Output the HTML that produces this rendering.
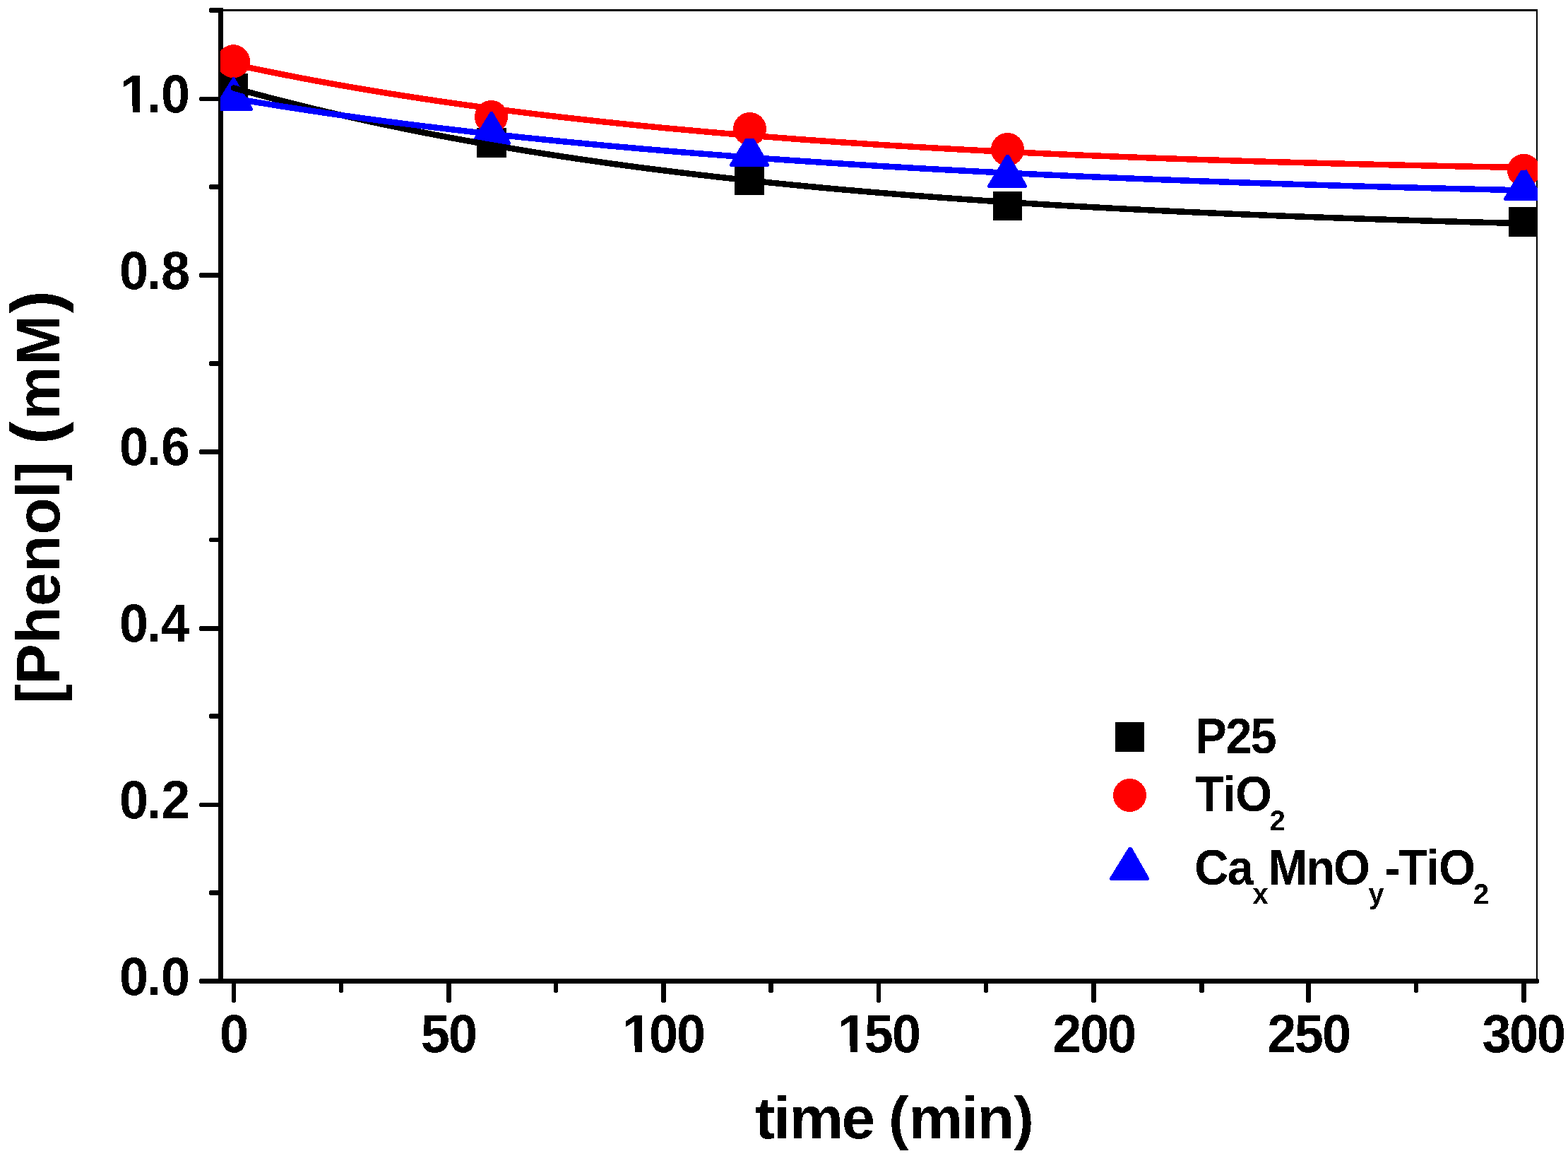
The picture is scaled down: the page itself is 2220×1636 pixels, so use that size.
<!DOCTYPE html>
<html lang="en"><head><meta charset="utf-8"><title>[Phenol] (mM) vs time (min)</title>
<style>html,body{margin:0;padding:0;background:#fff}body{width:2220px;height:1636px;overflow:hidden}svg{display:block}text{font-family:"Liberation Sans",Arial,Helvetica,sans-serif;font-weight:bold;fill:#000}</style></head><body>
<svg width="2220" height="1636" viewBox="0 0 2220 1636">
<defs><clipPath id="plot"><rect x="312" y="15" width="1865" height="1374"/></clipPath><filter id="bin" x="0" y="0" width="2220" height="1636" filterUnits="userSpaceOnUse" color-interpolation-filters="sRGB"><feComponentTransfer><feFuncA type="discrete" tableValues="0 1"/></feComponentTransfer></filter></defs>
<rect width="2220" height="1636" fill="#fff"/>
<g shape-rendering="crispEdges" fill="#000">
<rect x="309" y="13" width="1868" height="3"/>
<rect x="2175" y="13" width="2" height="1376"/>
<rect x="309" y="11" width="7" height="1381"/>
<rect x="309" y="1385" width="1869" height="7"/><rect x="2178" y="1386" width="1" height="5"/>
<rect x="283" y="1385" width="26" height="7"/><rect x="282" y="1386" width="1" height="5"/>
<rect x="297" y="1260" width="12" height="7"/><rect x="296" y="1261" width="1" height="5"/>
<rect x="283" y="1136" width="26" height="6"/><rect x="282" y="1137" width="1" height="4"/>
<rect x="297" y="1010" width="12" height="7"/><rect x="296" y="1011" width="1" height="5"/>
<rect x="283" y="886" width="26" height="7"/><rect x="282" y="887" width="1" height="5"/>
<rect x="297" y="761" width="12" height="6"/><rect x="296" y="762" width="1" height="4"/>
<rect x="283" y="636" width="26" height="7"/><rect x="282" y="637" width="1" height="5"/>
<rect x="297" y="511" width="12" height="7"/><rect x="296" y="512" width="1" height="5"/>
<rect x="283" y="386" width="26" height="7"/><rect x="282" y="387" width="1" height="5"/>
<rect x="297" y="261" width="12" height="7"/><rect x="296" y="262" width="1" height="5"/>
<rect x="283" y="137" width="26" height="6"/><rect x="282" y="138" width="1" height="4"/>
<rect x="297" y="11" width="12" height="7"/><rect x="296" y="12" width="1" height="5"/>
<rect x="328" y="1392" width="6" height="26"/><rect x="329" y="1418" width="4" height="1"/>
<rect x="480" y="1392" width="6" height="12"/><rect x="481" y="1404" width="4" height="1"/>
<rect x="632" y="1392" width="7" height="26"/><rect x="633" y="1418" width="5" height="1"/>
<rect x="784" y="1392" width="6" height="12"/><rect x="785" y="1404" width="4" height="1"/>
<rect x="936" y="1392" width="7" height="26"/><rect x="937" y="1418" width="5" height="1"/>
<rect x="1088" y="1392" width="7" height="12"/><rect x="1089" y="1404" width="5" height="1"/>
<rect x="1241" y="1392" width="6" height="26"/><rect x="1242" y="1418" width="4" height="1"/>
<rect x="1393" y="1392" width="6" height="12"/><rect x="1394" y="1404" width="4" height="1"/>
<rect x="1545" y="1392" width="7" height="26"/><rect x="1546" y="1418" width="5" height="1"/>
<rect x="1698" y="1392" width="7" height="12"/><rect x="1699" y="1404" width="5" height="1"/>
<rect x="1849" y="1392" width="7" height="26"/><rect x="1850" y="1418" width="5" height="1"/>
<rect x="2002" y="1392" width="6" height="12"/><rect x="2003" y="1404" width="4" height="1"/>
<rect x="2154" y="1392" width="7" height="26"/><rect x="2155" y="1418" width="5" height="1"/>
</g>
<g filter="url(#bin)">
<text transform="translate(0 1408) scale(1 1.033)" font-size="73.9" x="169 207.77 228">0.0</text>
<text transform="translate(0 1158) scale(1 1.033)" font-size="73.9" x="169 207.77 228.15">0.2</text>
<text transform="translate(0 908) scale(1 1.033)" font-size="73.9" x="169 207.77 227.59">0.4</text>
<text transform="translate(0 658) scale(1 1.033)" font-size="73.9" x="169 207.77 227.93">0.6</text>
<text transform="translate(0 409) scale(1 1.033)" font-size="73.9" x="169 207.77 227.91">0.8</text>
<text transform="translate(0 159) scale(1 1.033)" font-size="73.9" x="170.19 207.77 228">1.0</text>
<text transform="translate(0 1489) scale(1 1.033)" font-size="73.9" x="311">0</text>
<text transform="translate(0 1489) scale(1 1.033)" font-size="73.9" x="595.84 635">50</text>
<text transform="translate(0 1489) scale(1 1.033)" font-size="73.9" x="881.19 919 958">100</text>
<text transform="translate(0 1489) scale(1 1.033)" font-size="73.9" x="1186.19 1223.84 1263">150</text>
<text transform="translate(0 1489) scale(1 1.033)" font-size="73.9" x="1490.15 1529 1568">200</text>
<text transform="translate(0 1489) scale(1 1.033)" font-size="73.9" x="1794.15 1832.84 1872">250</text>
<text transform="translate(0 1489) scale(1 1.033)" font-size="73.9" x="2098.44 2137 2176">300</text>
<text transform="translate(0 1611) scale(1 0.975)" font-size="86" x="1068.68 1095.1 1117.6 1191.38 1230.08 1258.08 1286.6 1361.1 1383.57 1435.28">time (min)</text>
<text transform="translate(84 1000) rotate(-90) scale(1 1.02)" font-size="85.5" x="3.99 31.79 89.2 142.12 190.27 243.39 295.26 318.54 347.01 371.33 405.77 482.89 556.57">[Phenol] <tspan font-size="97.0">(</tspan>mM<tspan font-size="97.0">)</tspan></text>
<text transform="translate(0 1066) scale(1 1.043)" font-size="66.9" x="1692.24 1735.18 1770.45">P25</text>
<text transform="translate(0 1148) scale(1 1.043)" font-size="66.9" x="1691.9 1731.29 1749.01">TiO<tspan x="1797.74" dy="26.08" font-size="39.8">2</tspan></text>
<text transform="translate(0 1252) scale(1 1.043)" font-size="66.9" x="1691.24 1737.65">Ca<tspan x="1773.44" dy="26.08" font-size="39.8">x</tspan><tspan x="1795.44 1849.34 1887.96" dy="-26.08">MnO</tspan><tspan x="1937.58" dy="26.08" font-size="39.8">y</tspan><tspan x="1959.94 1980.05 2019.29 2037.11" dy="-26.08">-TiO</tspan><tspan x="2085.94" dy="26.08" font-size="39.8">2</tspan></text>
</g>
<rect x="173.19" y="150" width="14.5" height="10.5" fill="#fff" shape-rendering="crispEdges"/><rect x="197.69" y="150" width="13" height="10.5" fill="#fff" shape-rendering="crispEdges"/>
<rect x="884.19" y="1480" width="14.5" height="10.5" fill="#fff" shape-rendering="crispEdges"/><rect x="908.69" y="1480" width="13" height="10.5" fill="#fff" shape-rendering="crispEdges"/>
<rect x="1189.19" y="1480" width="14.5" height="10.5" fill="#fff" shape-rendering="crispEdges"/><rect x="1213.69" y="1480" width="13" height="10.5" fill="#fff" shape-rendering="crispEdges"/>
<g clip-path="url(#plot)" shape-rendering="crispEdges">
<rect x="310" y="104" width="41" height="42" fill="#000"/>
<rect x="675" y="181" width="42" height="42" fill="#000"/>
<rect x="1040" y="234" width="42" height="42" fill="#000"/>
<rect x="1406" y="271" width="41" height="41" fill="#000"/>
<rect x="2136" y="293" width="42" height="42" fill="#000"/>
<circle cx="330.5" cy="86.7" r="23.5" fill="#f00"/>
<circle cx="695.5" cy="165.5" r="23.5" fill="#f00"/>
<circle cx="1061.5" cy="182.5" r="23.5" fill="#f00"/>
<circle cx="1426.5" cy="211.5" r="23.5" fill="#f00"/>
<circle cx="2157.5" cy="241.3" r="23.5" fill="#f00"/>
<path d="M329.7 109L331.7 109L358 153.4L358 155.8L356.8 157L303.2 157L302 155.8L302 153.8Z" fill="#00f"/>
<path d="M694.9 157L696.9 157L723 201.4L723 203.8L721.8 205L668.2 205L667 203.8L667 201.8Z" fill="#00f"/>
<path d="M1059.5 189L1063.5 189L1089 232.4L1089 234.8L1087.8 236L1034.2 236L1033 234.8L1033 232.8Z" fill="#00f"/>
<path d="M1424.5 219L1428.5 219L1454 262.4L1454 264.8L1452.8 266L1399.2 266L1398 264.8L1398 262.8Z" fill="#00f"/>
<path d="M2155.5 237L2159.5 237L2185 280.4L2185 282.8L2183.8 284L2130.2 284L2129 282.8L2129 280.8Z" fill="#00f"/>
<path d="M331 124.57L347 128.99L363 133.31L379 137.54L395 141.68L411 145.74L427 149.71L443 153.6L459 157.4L475 161.13L491 164.78L507 168.35L523 171.85L539 175.27L555 178.63L571 181.91L587 185.13L603 188.27L619 191.36L635 194.38L651 197.33L667 200.23L683 203.06L699 205.84L715 208.56L731 211.22L747 213.83L763 216.38L779 218.88L795 221.33L811 223.73L827 226.08L843 228.38L859 230.64L875 232.84L891 235.01L907 237.12L923 239.2L939 241.23L955 243.22L971 245.16L987 247.07L1003 248.94L1019 250.77L1035 252.56L1051 254.31L1067 256.02L1083 257.7L1099 259.34L1115 260.95L1131 262.53L1147 264.06L1163 265.57L1179 267.04L1195 268.48L1211 269.89L1227 271.27L1243 272.62L1259 273.94L1275 275.22L1291 276.48L1307 277.72L1323 278.92L1339 280.1L1355 281.25L1371 282.38L1387 283.48L1403 284.55L1419 285.6L1435 286.63L1451 287.64L1467 288.62L1483 289.59L1499 290.53L1515 291.45L1531 292.35L1547 293.24L1563 294.1L1579 294.95L1595 295.77L1611 296.58L1627 297.38L1643 298.15L1659 298.91L1675 299.66L1691 300.39L1707 301.11L1723 301.81L1739 302.49L1755 303.16L1771 303.82L1787 304.47L1803 305.1L1819 305.72L1835 306.33L1851 306.92L1867 307.5L1883 308.08L1899 308.64L1915 309.18L1931 309.72L1947 310.25L1963 310.76L1979 311.27L1995 311.76L2011 312.24L2027 312.72L2043 313.18L2059 313.64L2075 314.08L2091 314.52L2107 314.95L2123 315.37L2139 315.78L2155 316.18L2157.5 316.24" fill="none" stroke="#000" stroke-width="8.5" stroke-linecap="round" stroke-linejoin="round"/>
<path d="M331 91L347 94.44L363 97.8L379 101.09L395 104.31L411 107.46L427 110.55L443 113.56L459 116.51L475 119.4L491 122.23L507 124.99L523 127.7L539 130.35L555 132.94L571 135.47L587 137.95L603 140.38L619 142.75L635 145.08L651 147.35L667 149.58L683 151.76L699 153.89L715 155.97L731 158.02L747 160.01L763 161.97L779 163.88L795 165.76L811 167.59L827 169.38L843 171.14L859 172.86L875 174.54L891 176.18L907 177.8L923 179.37L939 180.92L955 182.43L971 183.9L987 185.35L1003 186.77L1019 188.15L1035 189.51L1051 190.84L1067 192.13L1083 193.41L1099 194.65L1115 195.87L1131 197.06L1147 198.22L1163 199.36L1179 200.48L1195 201.57L1211 202.63L1227 203.68L1243 204.7L1259 205.7L1275 206.67L1291 207.63L1307 208.56L1323 209.47L1339 210.37L1355 211.24L1371 212.09L1387 212.92L1403 213.74L1419 214.54L1435 215.31L1451 216.07L1467 216.82L1483 217.55L1499 218.26L1515 218.95L1531 219.63L1547 220.29L1563 220.94L1579 221.57L1595 222.19L1611 222.79L1627 223.39L1643 223.96L1659 224.53L1675 225.08L1691 225.62L1707 226.15L1723 226.66L1739 227.17L1755 227.66L1771 228.14L1787 228.61L1803 229.08L1819 229.53L1835 229.97L1851 230.4L1867 230.82L1883 231.24L1899 231.64L1915 232.04L1931 232.42L1947 232.8L1963 233.18L1979 233.54L1995 233.89L2011 234.24L2027 234.58L2043 234.92L2059 235.24L2075 235.57L2091 235.88L2107 236.19L2123 236.49L2139 236.78L2155 237.07L2157.5 237.11" fill="none" stroke="#f00" stroke-width="8.5" stroke-linecap="round" stroke-linejoin="round"/>
<path d="M331 139.18L347 141.94L363 144.63L379 147.26L395 149.83L411 152.35L427 154.81L443 157.22L459 159.58L475 161.9L491 164.17L507 166.39L523 168.57L539 170.71L555 172.81L571 174.86L587 176.88L603 178.86L619 180.81L635 182.72L651 184.59L667 186.43L683 188.24L699 190.02L715 191.76L731 193.47L747 195.15L763 196.8L779 198.42L795 200.01L811 201.58L827 203.11L843 204.62L859 206.11L875 207.56L891 208.99L907 210.4L923 211.78L939 213.13L955 214.47L971 215.77L987 217.06L1003 218.32L1019 219.56L1035 220.78L1051 221.98L1067 223.16L1083 224.31L1099 225.45L1115 226.56L1131 227.66L1147 228.74L1163 229.79L1179 230.83L1195 231.86L1211 232.86L1227 233.84L1243 234.81L1259 235.76L1275 236.7L1291 237.62L1307 238.52L1323 239.41L1339 240.28L1355 241.13L1371 241.97L1387 242.8L1403 243.61L1419 244.41L1435 245.19L1451 245.96L1467 246.72L1483 247.46L1499 248.19L1515 248.9L1531 249.61L1547 250.3L1563 250.98L1579 251.65L1595 252.31L1611 252.95L1627 253.58L1643 254.21L1659 254.82L1675 255.42L1691 256.01L1707 256.59L1723 257.16L1739 257.72L1755 258.27L1771 258.81L1787 259.34L1803 259.86L1819 260.37L1835 260.88L1851 261.37L1867 261.86L1883 262.33L1899 262.8L1915 263.26L1931 263.72L1947 264.16L1963 264.6L1979 265.03L1995 265.45L2011 265.86L2027 266.27L2043 266.67L2059 267.06L2075 267.45L2091 267.83L2107 268.2L2123 268.57L2139 268.93L2155 269.28L2157.5 269.33" fill="none" stroke="#00f" stroke-width="8.5" stroke-linecap="round" stroke-linejoin="round"/>
</g>
<g shape-rendering="crispEdges">
<rect x="1579" y="1022" width="41" height="42" fill="#000"/>
<circle cx="1599.5" cy="1125.5" r="23.5" fill="#f00"/>
<path d="M1598.1 1199L1602.1 1199L1627 1242.4L1627 1244.8L1625.8 1246L1572.2 1246L1571 1244.8L1571 1242.8Z" fill="#00f"/>
</g>
</svg></body></html>
